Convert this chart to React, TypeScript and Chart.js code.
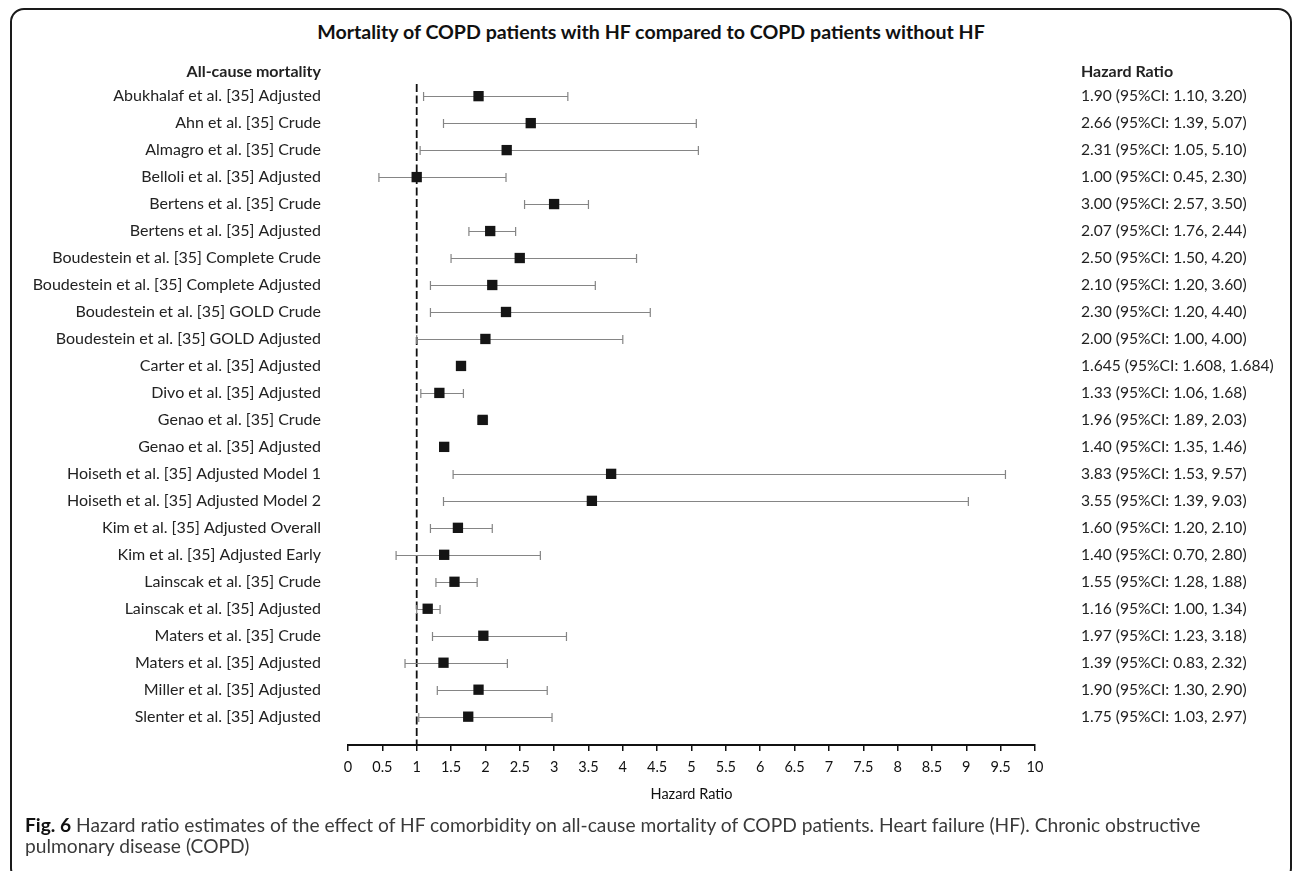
import React, { useEffect, useRef } from 'react';
import { Chart, registerables } from 'chart.js';

Chart.register(...registerables);

const FONT = 'Lato, "Open Sans", sans-serif';

const studies = [
  'Abukhalaf et al. [35] Adjusted',
  'Ahn et al. [35] Crude',
  'Almagro et al. [35] Crude',
  'Belloli et al. [35] Adjusted',
  'Bertens et al. [35] Crude',
  'Bertens et al. [35] Adjusted',
  'Boudestein et al. [35] Complete Crude',
  'Boudestein et al. [35] Complete Adjusted',
  'Boudestein et al. [35] GOLD Crude',
  'Boudestein et al. [35] GOLD Adjusted',
  'Carter et al. [35] Adjusted',
  'Divo et al. [35] Adjusted',
  'Genao et al. [35] Crude',
  'Genao et al. [35] Adjusted',
  'Hoiseth et al. [35] Adjusted Model 1',
  'Hoiseth et al. [35] Adjusted Model 2',
  'Kim et al. [35] Adjusted Overall',
  'Kim et al. [35] Adjusted Early',
  'Lainscak et al. [35] Crude',
  'Lainscak et al. [35] Adjusted',
  'Maters et al. [35] Crude',
  'Maters et al. [35] Adjusted',
  'Miller et al. [35] Adjusted',
  'Slenter et al. [35] Adjusted',
];

const hazardRatios = [1.9, 2.66, 2.31, 1.0, 3.0, 2.07, 2.5, 2.1, 2.3, 2.0, 1.645, 1.33, 1.96, 1.4, 3.83, 3.55, 1.6, 1.4, 1.55, 1.16, 1.97, 1.39, 1.9, 1.75];
const ciLower = [1.1, 1.39, 1.05, 0.45, 2.57, 1.76, 1.5, 1.2, 1.2, 1.0, 1.608, 1.06, 1.89, 1.35, 1.53, 1.39, 1.2, 0.7, 1.28, 1.0, 1.23, 0.83, 1.3, 1.03];
const ciUpper = [3.2, 5.07, 5.1, 2.3, 3.5, 2.44, 4.2, 3.6, 4.4, 4.0, 1.684, 1.68, 2.03, 1.46, 9.57, 9.03, 2.1, 2.8, 1.88, 1.34, 3.18, 2.32, 2.9, 2.97];
const ciLabels = [
  '1.90 (95%CI: 1.10, 3.20)',
  '2.66 (95%CI: 1.39, 5.07)',
  '2.31 (95%CI: 1.05, 5.10)',
  '1.00 (95%CI: 0.45, 2.30)',
  '3.00 (95%CI: 2.57, 3.50)',
  '2.07 (95%CI: 1.76, 2.44)',
  '2.50 (95%CI: 1.50, 4.20)',
  '2.10 (95%CI: 1.20, 3.60)',
  '2.30 (95%CI: 1.20, 4.40)',
  '2.00 (95%CI: 1.00, 4.00)',
  '1.645 (95%CI: 1.608, 1.684)',
  '1.33 (95%CI: 1.06, 1.68)',
  '1.96 (95%CI: 1.89, 2.03)',
  '1.40 (95%CI: 1.35, 1.46)',
  '3.83 (95%CI: 1.53, 9.57)',
  '3.55 (95%CI: 1.39, 9.03)',
  '1.60 (95%CI: 1.20, 2.10)',
  '1.40 (95%CI: 0.70, 2.80)',
  '1.55 (95%CI: 1.28, 1.88)',
  '1.16 (95%CI: 1.00, 1.34)',
  '1.97 (95%CI: 1.23, 3.18)',
  '1.39 (95%CI: 0.83, 2.32)',
  '1.90 (95%CI: 1.30, 2.90)',
  '1.75 (95%CI: 1.03, 2.97)',
];

const xTickValues = [0, 0.5, 1, 1.5, 2, 2.5, 3, 3.5, 4, 4.5, 5, 5.5, 6, 6.5, 7, 7.5, 8, 8.5, 9, 9.5, 10];
const referenceValue = 1;
const leftHeader = 'All-cause mortality';
const rightHeader = 'Hazard Ratio';
const xAxisTitle = 'Hazard Ratio';
const chartTitle = 'Mortality of COPD patients with HF compared to COPD patients without HF';

const forestPlugin = {
  id: 'forest',
  beforeDatasetsDraw(chart: any) {
    const { ctx, chartArea, scales } = chart;
    const x = scales.x;
    const y = scales.y;
    ctx.save();
    const xr = x.getPixelForValue(referenceValue);
    ctx.strokeStyle = '#111';
    ctx.lineWidth = 1.8;
    ctx.setLineDash([8, 3.5]);
    ctx.beginPath();
    ctx.moveTo(xr, chartArea.top);
    ctx.lineTo(xr, chartArea.bottom);
    ctx.stroke();
    ctx.setLineDash([]);
    ctx.strokeStyle = '#858585';
    ctx.lineWidth = 1.2;
    studies.forEach((_, i) => {
      const yy = Math.round(y.getPixelForValue(i)) + 0.5;
      const xl = x.getPixelForValue(ciLower[i]);
      const xh = x.getPixelForValue(ciUpper[i]);
      ctx.beginPath();
      ctx.moveTo(xl, yy);
      ctx.lineTo(xh, yy);
      ctx.moveTo(xl, yy - 4.5);
      ctx.lineTo(xl, yy + 4.5);
      ctx.moveTo(xh, yy - 4.5);
      ctx.lineTo(xh, yy + 4.5);
      ctx.stroke();
    });
    ctx.restore();
  },
  afterDraw(chart: any) {
    const { ctx, scales } = chart;
    const x = scales.x;
    const y = scales.y;
    ctx.save();
    ctx.fillStyle = '#222';
    ctx.textBaseline = 'middle';
    const rightX = x.getPixelForValue(10) + 46;
    ctx.font = `15.6px ${FONT}`;
    ctx.textAlign = 'left';
    ciLabels.forEach((t, i) => {
      ctx.fillText(t, rightX, y.getPixelForValue(i));
    });
    ctx.font = `bold 16px ${FONT}`;
    const hy = y.getPixelForValue(-0.89);
    ctx.fillText(rightHeader, rightX, hy);
    ctx.textAlign = 'right';
    ctx.fillText(leftHeader, y.right - 27, hy);
    ctx.restore();
  },
};

export default function App() {
  const canvasRef = useRef<HTMLCanvasElement | null>(null);

  useEffect(() => {
    if (!canvasRef.current) return;
    const chart = new Chart(canvasRef.current, {
      type: 'scatter',
      data: {
        datasets: [
          {
            label: 'Hazard ratio',
            data: hazardRatios.map((v, i) => ({ x: v, y: i })),
            pointStyle: 'rect',
            pointRadius: 7.3,
            pointHoverRadius: 7.3,
            backgroundColor: '#151515',
            borderColor: '#151515',
            borderWidth: 0,
          },
        ],
      },
      options: {
        animation: false,
        responsive: false,
        maintainAspectRatio: false,
        events: [],
        layout: { padding: { left: 0, right: 257, top: 84, bottom: 66 } },
        plugins: {
          legend: { display: false },
          tooltip: { enabled: false },
          title: { display: false },
        },
        scales: {
          x: {
            type: 'linear',
            min: 0,
            max: 10,
            afterBuildTicks: (scale: any) => {
              scale.ticks = xTickValues.map((v) => ({ value: v }));
            },
            afterFit: (scale: any) => {
              scale.height = 60;
            },
            border: { display: true, color: '#111', width: 2 },
            grid: {
              drawOnChartArea: false,
              drawTicks: true,
              tickLength: 6,
              color: '#111',
              lineWidth: 1.5,
            },
            ticks: {
              color: '#111',
              font: { family: FONT, size: 14.5 },
              padding: 8,
              maxRotation: 0,
              autoSkip: false,
              callback: (v: any) => String(v),
            },
            title: {
              display: true,
              text: xAxisTitle,
              color: '#111',
              font: { family: FONT, size: 14.5 },
              padding: { top: 0, bottom: 2 },
            },
          },
          y: {
            type: 'linear',
            reverse: true,
            min: -0.45,
            max: 24.05,
            afterBuildTicks: (scale: any) => {
              scale.ticks = studies.map((_, i) => ({ value: i }));
            },
            afterFit: (scale: any) => {
              scale.width = 348;
            },
            border: { display: false },
            grid: { display: false, drawTicks: false },
            ticks: {
              color: '#222',
              font: { family: FONT, size: 16 },
              padding: 27,
              autoSkip: false,
              callback: (v: any) => studies[v] ?? '',
            },
          },
        },
      },
      plugins: [forestPlugin],
    });
    return () => chart.destroy();
  }, []);

  return (
    <div style={{ position: 'absolute', left: 0, top: 0, width: 1292, height: 871, overflow: 'hidden', background: '#fff', fontFamily: FONT }}>
      <div
        style={{
          position: 'absolute',
          left: 10,
          top: 8,
          width: 1282,
          height: 874,
          border: '2px solid #1a1a1a',
          borderRadius: 14,
          boxSizing: 'border-box',
        }}
      />
      <div
        style={{
          position: 'absolute',
          left: 10,
          width: 1282,
          top: 19,
          textAlign: 'center',
          fontWeight: 'bold',
          fontSize: 19.6,
          lineHeight: '26px',
          color: '#111',
        }}
      >
        {chartTitle}
      </div>
      <canvas ref={canvasRef} width={1292} height={871} style={{ position: 'absolute', left: 0, top: 0 }} />
      <div
        style={{
          position: 'absolute',
          left: 25,
          top: 814,
          width: 1260,
          fontSize: 19.2,
          lineHeight: '21px',
          color: '#3a3a3a',
          whiteSpace: 'nowrap',
        }}
      >
        <b style={{ color: '#111' }}>Fig. 6</b> Hazard ratio estimates of the effect of HF comorbidity on all-cause mortality of COPD patients. Heart failure (HF). Chronic obstructive
        <br />
        pulmonary disease (COPD)
      </div>
    </div>
  );
}
